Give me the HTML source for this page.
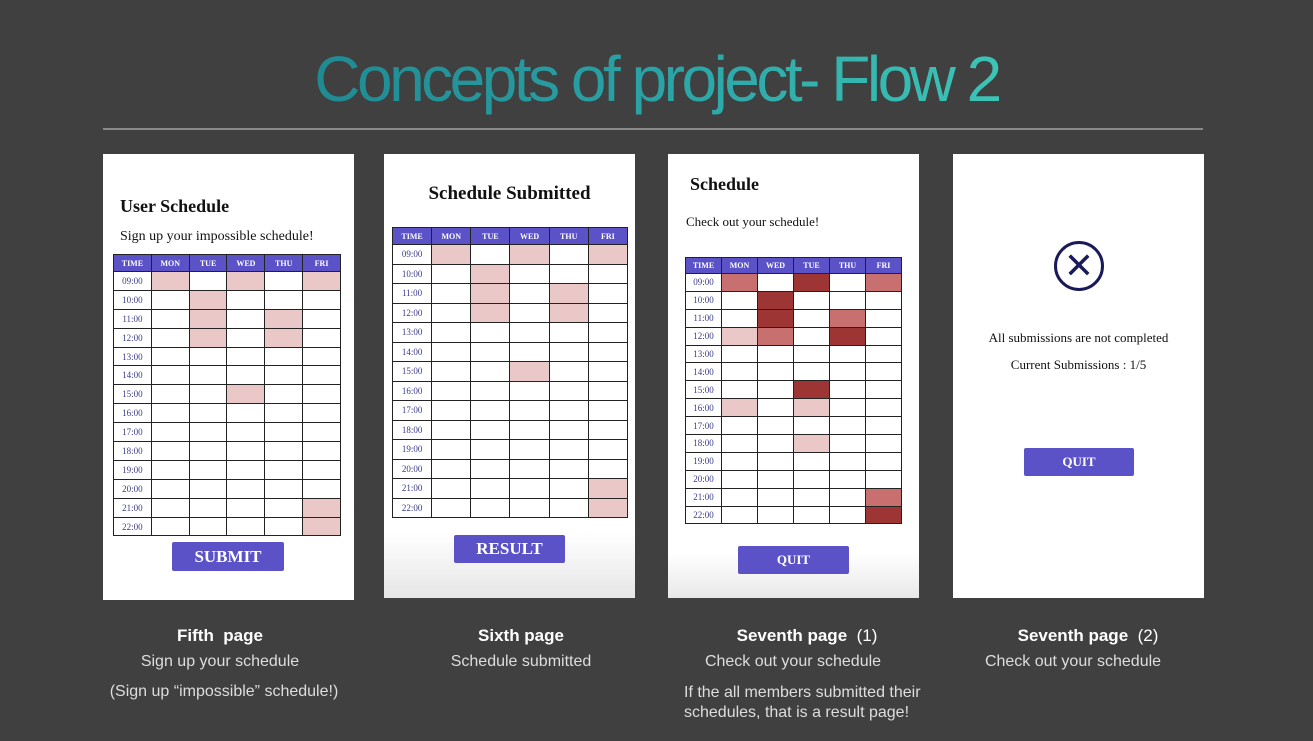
<!DOCTYPE html>
<html><head><meta charset="utf-8"><style>
body{margin:0;width:1313px;height:741px;background:#404040;position:relative;overflow:hidden;font-family:"Liberation Sans",sans-serif}
.a{position:absolute}
.card{position:absolute;background:#fff;top:154px;width:251px}
table{position:absolute;border-collapse:collapse;font-family:"Liberation Serif",serif;table-layout:fixed}
td,th{border:1px solid #222;padding:0;text-align:center;font-size:9px;color:#3a3a8a}
th{background:#5b52c8;color:#fff;font-size:8px;font-weight:bold}
.l{background:#ebc8c8}.m{background:#c87070}.d{background:#9e3535}
.btn{position:absolute;background:#5b52c8;color:#fff;font-family:"Liberation Serif",serif;font-weight:bold;text-align:center;border-radius:2px}
.ser{font-family:"Liberation Serif",serif;color:#111}
.cap{position:absolute;text-align:center;color:#ddd}
.ttl{display:inline-block;font-size:64px;letter-spacing:-3.5px;background:linear-gradient(90deg,#1f8a92,#2aa3a6 50%,#3cc4b6);-webkit-background-clip:text;background-clip:text;color:transparent}
</style></head><body>
<div class="a" style="left:0;width:1313px;top:42px;text-align:center"><span class="ttl">Concepts of project- Flow 2</span></div>
<div class="a" style="left:103px;top:128px;width:1100px;height:2px;background:#8a8a8a"></div>

<div class="card" style="left:103px;height:446px"></div>
<div class="card" style="left:384px;height:444px;background:linear-gradient(#fff 85%,#e6e6e6)"></div>
<div class="card" style="left:668px;height:444px;background:linear-gradient(#fff 90%,#e8e8e8)"></div>
<div class="card" style="left:953px;height:444px"></div>

<div class="a ser" style="left:120px;top:196px;font-size:18px;font-weight:bold">User Schedule</div>
<div class="a ser" style="left:120px;top:229px;font-size:14px">Sign up your impossible schedule!</div>
<div class="a ser" style="left:384px;width:251px;text-align:center;top:183px;font-size:19px;font-weight:bold">Schedule Submitted</div>
<div class="a ser" style="left:690px;top:174px;font-size:18px;font-weight:bold">Schedule</div>
<div class="a ser" style="left:686px;top:214px;font-size:13px">Check out your schedule!</div>

<div class="a" style="left:1054px;top:241px;width:44px;height:44px;border:3px solid #1a1a5a;border-radius:50%;text-align:center;line-height:44px;font-size:36px;color:#1a1a5a">✕</div>
<div class="a ser" style="left:953px;width:251px;text-align:center;top:330px;font-size:13px">All submissions are not completed</div>
<div class="a ser" style="left:953px;width:251px;text-align:center;top:357px;font-size:13px">Current Submissions : 1/5</div>

<div class="btn" style="left:172px;top:542px;width:112px;height:29px;line-height:29px;font-size:17px">SUBMIT</div>
<div class="btn" style="left:454px;top:535px;width:111px;height:28px;line-height:28px;font-size:17px">RESULT</div>
<div class="btn" style="left:738px;top:546px;width:111px;height:28px;line-height:28px;font-size:13px">QUIT</div>
<div class="btn" style="left:1024px;top:448px;width:110px;height:28px;line-height:28px;font-size:13px">QUIT</div>

<div id="t"></div>

<div class="cap" style="left:95px;width:250px;top:626px;font-size:17px;font-weight:bold;color:#fff">Fifth &nbsp;page</div>
<div class="cap" style="left:95px;width:250px;top:653px;font-size:16px">Sign up your schedule</div>
<div class="cap" style="left:95px;width:258px;top:683px;font-size:16px">(Sign up “impossible” schedule!)</div>
<div class="cap" style="left:396px;width:250px;top:626px;font-size:17px;font-weight:bold;color:#fff">Sixth page</div>
<div class="cap" style="left:396px;width:250px;top:653px;font-size:16px">Schedule submitted</div>
<div class="cap" style="left:682px;width:250px;top:626px;font-size:17px;color:#fff"><b>Seventh page</b> &nbsp;(1)</div>
<div class="cap" style="left:668px;width:250px;top:653px;font-size:16px">Check out your schedule</div>
<div class="cap" style="left:684px;width:260px;top:683px;font-size:16px;text-align:left;line-height:20px">If the all members submitted their schedules, that is a result page!</div>
<div class="cap" style="left:963px;width:250px;top:626px;font-size:17px;color:#fff"><b>Seventh page</b> &nbsp;(2)</div>
<div class="cap" style="left:948px;width:250px;top:653px;font-size:16px">Check out your schedule</div>

<script>
function mk(x,y,w,hh,rh,days,marks){
 var s='<table style="left:'+x+'px;top:'+y+'px;width:'+w+'px"><tr style="height:'+hh+'px"><th>TIME</th>';
 days.forEach(function(d){s+='<th>'+d+'</th>'});s+='</tr>';
 for(var h=9;h<=22;h++){s+='<tr style="height:'+rh+'px"><td>'+(h<10?'0':'')+h+':00</td>';
  for(var c=0;c<5;c++){var k=marks[h+'_'+c]||'';s+='<td class="'+k+'"></td>'}s+='</tr>'}
 return s+'</table>';}
var m1={'9_0':'l','9_2':'l','9_4':'l','10_1':'l','11_1':'l','11_3':'l','12_1':'l','12_3':'l','15_2':'l','21_4':'l','22_4':'l'};
var m3={'9_0':'m','9_2':'d','9_4':'m','10_1':'d','11_1':'d','11_3':'m','12_0':'l','12_1':'m','12_3':'d','15_2':'d','16_0':'l','16_2':'l','18_2':'l','21_4':'m','22_4':'d'};
var D=['MON','TUE','WED','THU','FRI'];
document.getElementById('t').innerHTML=
 mk(113,254,228,17,18.9,D,m1)+
 mk(392,227,236,17,19.5,D,m1)+
 mk(685,257,217,16,17.9,['MON','WED','TUE','THU','FRI'],m3);
</script>
</body></html>
